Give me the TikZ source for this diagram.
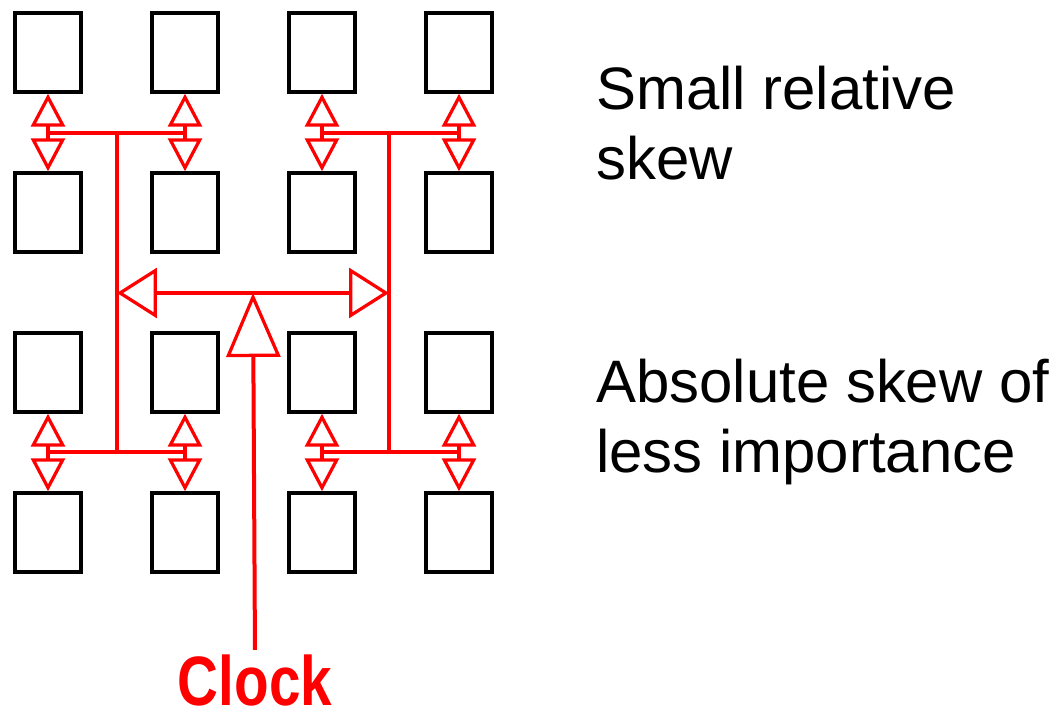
\documentclass[tikz,border=0pt]{standalone}
\usepackage{fontspec}
\setmainfont{Liberation Sans}
\usetikzlibrary{arrows.meta}

\begin{document}
\begin{tikzpicture}[x=0.02cm,y=-0.02cm,
  >={Triangle[open,length=0.66cm,width=0.68cm,line width=0.065cm]},
  every node/.style={inner sep=0pt},
  cell/.style={draw,line width=0.07cm,minimum width=1.33cm,minimum height=1.58cm},
  wire/.style={draw=red,line width=0.08cm},
  note/.style={font=\fontsize{34.1}{39.8}\selectfont,align=left,anchor=north west}]
\useasboundingbox (0,0) rectangle (1063,715);

% flip-flops, row by row
\foreach \r/\y in {1/52.5,2/212.5,3/372.5,4/532.5}
  \foreach \c/\x in {1/48,2/185,3/322,4/459}
    \node[cell] (ff\r\c) at (\x,\y) {};

% H-tree taps
\coordinate (hub) at (253,293);
\coordinate (tapL) at (117,293);
\coordinate (tapR) at (389,293);
\coordinate (jTL) at (117,133);
\coordinate (jTR) at (389,133);
\coordinate (jBL) at (117,452);
\coordinate (jBR) at (389,452);

\draw[wire] (jTL) -- (jBL);
\draw[wire] (jTR) -- (jBR);
\draw[wire] (ff11.south |- jTL) -- (ff12.south |- jTL);
\draw[wire] (ff13.south |- jTR) -- (ff14.south |- jTR);
\draw[wire] (ff31.south |- jBL) -- (ff32.south |- jBL);
\draw[wire] (ff33.south |- jBR) -- (ff34.south |- jBR);

% leaves to each flip-flop
\foreach \a/\b/\c/\j in {1/2/1/jTL,1/2/2/jTL,1/2/3/jTR,1/2/4/jTR,
                         3/4/1/jBL,3/4/2/jBL,3/4/3/jBR,3/4/4/jBR} {
  \draw[wire,->] (ff\a\c.south |- \j) -- (ff\a\c.south);
  \draw[wire,->] (ff\a\c.south |- \j) -- (ff\b\c.north);
}

% root
\draw[wire,-{Triangle[open,length=0.8cm,width=1cm,line width=0.065cm]}] (hub) -- (tapL);
\draw[wire,-{Triangle[open,length=0.8cm,width=1cm,line width=0.065cm]}] (hub) -- (tapR);

\node[text=red,font=\fontsize{39.8}{44}\selectfont\bfseries] (clock) at (255,681)
  {\scalebox{0.81}[1]{Clock}};
\draw[wire,shorten <=0.1cm,-{Triangle[open,length=1.28cm,width=1.08cm,line width=0.065cm]}]
  (clock.north) -- (hub);

\node[note] (rel) at (596,66) {Small relative\\skew};
\node[note] (abs) at (596,359) {Absolute skew of\\less importance};
\end{tikzpicture}
\end{document}
